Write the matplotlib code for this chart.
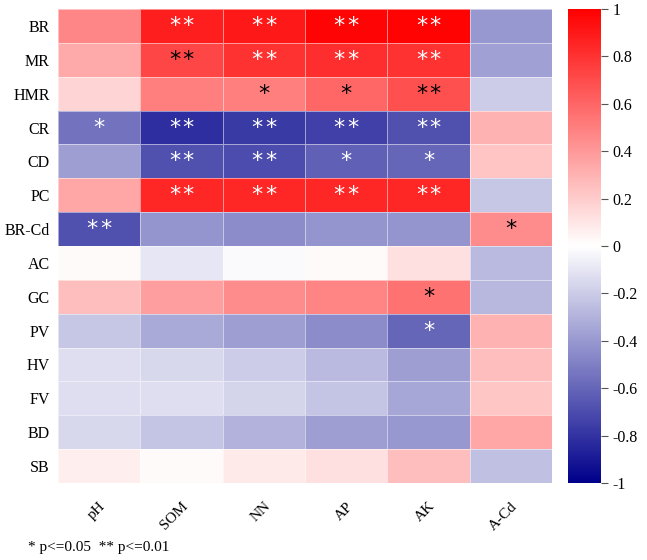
import numpy as np
import matplotlib.pyplot as plt
from matplotlib.colors import LinearSegmentedColormap

plt.rcParams['font.family'] = ['Liberation Serif', 'DejaVu Serif']

rows = ['BR', 'MR', 'HMR', 'CR', 'CD', 'PC', 'BR-Cd', 'AC', 'GC', 'PV', 'HV', 'FV', 'BD', 'SB']
cols = ['pH', 'SOM', 'NN', 'AP', 'AK', 'A-Cd']

# correlation values
corr = np.array([
    [0.47, 0.88, 0.90, 0.98, 0.99, -0.40],
    [0.33, 0.72, 0.80, 0.82, 0.80, -0.37],
    [0.17, 0.50, 0.50, 0.60, 0.68, -0.20],
    [-0.55, -0.82, -0.77, -0.75, -0.68, 0.30],
    [-0.38, -0.68, -0.70, -0.62, -0.60, 0.23],
    [0.35, 0.85, 0.85, 0.85, 0.85, -0.22],
    [-0.68, -0.42, -0.45, -0.42, -0.42, 0.45],
    [0.02, -0.10, -0.02, 0.02, 0.12, -0.27],
    [0.25, 0.38, 0.45, 0.48, 0.55, -0.28],
    [-0.22, -0.33, -0.38, -0.45, -0.60, 0.30],
    [-0.13, -0.15, -0.20, -0.27, -0.38, 0.25],
    [-0.13, -0.13, -0.17, -0.23, -0.35, 0.22],
    [-0.15, -0.23, -0.30, -0.38, -0.40, 0.35],
    [0.07, 0.02, 0.08, 0.12, 0.25, -0.25],
])

# number of stars per cell (1: p<=0.05, 2: p<=0.01)
sig = np.array([
    [0, 2, 2, 2, 2, 0],
    [0, 2, 2, 2, 2, 0],
    [0, 0, 1, 1, 2, 0],
    [1, 2, 2, 2, 2, 0],
    [0, 2, 2, 1, 1, 0],
    [0, 2, 2, 2, 2, 0],
    [2, 0, 0, 0, 0, 1],
    [0, 0, 0, 0, 0, 0],
    [0, 0, 0, 0, 1, 0],
    [0, 0, 0, 0, 1, 0],
    [0, 0, 0, 0, 0, 0],
    [0, 0, 0, 0, 0, 0],
    [0, 0, 0, 0, 0, 0],
    [0, 0, 0, 0, 0, 0],
])

cmap = LinearSegmentedColormap.from_list('bwr2', ['#00008B', '#FFFFFF', '#FF0000'])

fig = plt.figure(figsize=(6.47, 5.6), dpi=100)
ax = fig.add_axes([58 / 647, 1 - 483 / 560, 494 / 647, 474 / 560])
cax = fig.add_axes([568 / 647, 1 - 483 / 560, 33 / 647, 474 / 560])

im = ax.pcolormesh(corr, cmap=cmap, vmin=-1, vmax=1,
                   edgecolor=(1, 1, 1, 0.5), linewidth=0.6)
ax.set_xlim(0, len(cols))
ax.set_ylim(len(rows), 0)

for i in range(len(rows)):
    for j in range(len(cols)):
        n = sig[i, j]
        if n == 0:
            continue
        v = corr[i, j]
        c = 'white' if (v > 0.75 or v < -0.5) else 'black'
        offs = [0.0] if n == 1 else [-0.083, 0.083]
        for dx in offs:
            ax.text(j + 0.5 + dx, i + 0.5, '*', ha='center', va='center',
                    fontsize=16, color=c, family='DejaVu Sans')

ax.set_xticks(np.arange(len(cols)) + 0.5)
ax.set_xticklabels(cols, rotation=45, ha='right', rotation_mode='anchor', fontsize=11)
ax.set_yticks(np.arange(len(rows)) + 0.5)
ax.set_yticklabels(rows, fontsize=11.5)
ax.tick_params(length=0, pad=6)
ax.tick_params(axis='x', pad=12)
for sp in ax.spines.values():
    sp.set_visible(False)

cb = fig.colorbar(im, cax=cax, ticks=np.linspace(-1, 1, 11))
cb.ax.set_yticklabels(['-1', '-0.8', '-0.6', '-0.4', '-0.2', '0', '0.2', '0.4', '0.6', '0.8', '1'])
cb.ax.tick_params(labelsize=11.5, length=5, width=0.8, color='#555555')
cb.outline.set_visible(False)

fig.text(28 / 647, 1 - 548 / 560, '* p<=0.05  ** p<=0.01', fontsize=11, va='center')

fig.savefig('out.png', dpi=100)
